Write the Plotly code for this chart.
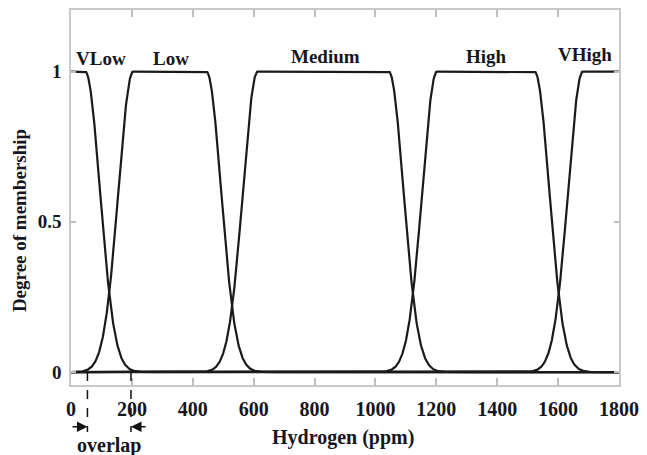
import numpy as np
import plotly.graph_objects as go

# ---- data ----
set_names = ["VLow", "Low", "Medium", "High", "VHigh"]
plateau_start = [-100, 204, 613, 1202, 1681]   # ppm where membership reaches 1
plateau_end = [47, 445, 1044, 1523, 1900]      # ppm where membership leaves 1
sigma = [48, 48, 48, 48, 48]                   # gaussian shoulder width (ppm)
x_ticks = [0, 200, 400, 600, 800, 1000, 1200, 1400, 1600, 1800]
y_ticks = [0, 0.5, 1]
y_tick_text = ["0", "0.5", "1"]
overlap_bounds = [54, 197]                     # ppm marked by dashed lines

TXT = "#161622"
FONT = "Liberation Serif"

x = np.arange(0, 1801, 1.0)


def gauss2mf(xv, s, c1, c2):
    y = np.ones_like(xv)
    left = xv < c1
    right = xv > c2
    y[left] = np.exp(-((xv[left] - c1) ** 2) / (2 * s ** 2))
    y[right] = np.exp(-((xv[right] - c2) ** 2) / (2 * s ** 2))
    return y


fig = go.Figure()
for name, a, b, s in zip(set_names, plateau_start, plateau_end, sigma):
    fig.add_trace(go.Scatter(x=x, y=gauss2mf(x, s, a, b), mode="lines", name=name,
                             line=dict(color="#1a1a1a", width=2.2), showlegend=False))

# curve labels
label_pos = {"VLow": (98, 1.043), "Low": (327, 1.043), "Medium": (836, 1.05),
             "High": (1364, 1.05), "VHigh": (1687, 1.056)}
for name in set_names:
    lx, ly = label_pos[name]
    fig.add_annotation(x=lx, y=ly, xref="x", yref="y", text=name, showarrow=False,
                       xanchor="center", yanchor="middle",
                       font=dict(family=FONT, size=19, color=TXT, weight="bold"))

# overlap markers
for xb in overlap_bounds:
    fig.add_shape(type="line", xref="x", yref="paper", x0=xb, x1=xb, y0=0.0345, y1=-0.125,
                  line=dict(color="#111", width=1.5, dash="dash"))
fig.add_annotation(x=overlap_bounds[0], y=-0.111, xref="x", yref="paper", ax=0, ay=0,
                   axref="x", ayref="pixel", text="", showarrow=True, arrowhead=2,
                   arrowsize=1.4, arrowwidth=1.5, arrowcolor="#111")
fig.add_annotation(x=overlap_bounds[1], y=-0.111, xref="x", yref="paper", ax=250, ay=0,
                   axref="x", ayref="pixel", text="", showarrow=True, arrowhead=2,
                   arrowsize=1.4, arrowwidth=1.5, arrowcolor="#111")
fig.add_annotation(x=124, y=-0.1618, xref="x", yref="paper", text="overlap", showarrow=False,
                   xanchor="center", yanchor="middle",
                   font=dict(family=FONT, size=20, color=TXT, weight="bold"))

# axis titles
fig.add_annotation(x=0.497, y=-0.1406, xref="paper", yref="paper", text="Hydrogen (ppm)",
                   xanchor="center", yanchor="middle",
                   showarrow=False, font=dict(family=FONT, size=20, color=TXT, weight="bold"))
fig.add_annotation(x=-0.0926, y=0.4377, xref="paper", yref="paper", text="Degree of membership",
                   textangle=-90, showarrow=False, xanchor="center", yanchor="middle",
                   font=dict(family=FONT, size=19, color=TXT, weight="bold"))

fig.update_xaxes(range=[0, 1800], tickvals=x_ticks, ticks="inside", ticklen=7,
                 tickcolor="#bdbdbd", tickwidth=1.5, showline=True, linecolor="#c8c8c8",
                 linewidth=1.5, mirror="ticks", showgrid=False, zeroline=False,
                 ticklabelstandoff=5,
                 tickfont=dict(family=FONT, size=20, color=TXT, weight="bold"))
fig.update_yaxes(range=[-0.043, 1.205], tickvals=y_ticks, ticktext=y_tick_text,
                 ticks="inside", ticklen=5, tickcolor="#bdbdbd", tickwidth=1.5,
                 showline=True, linecolor="#c8c8c8", linewidth=1.5, mirror="ticks",
                 showgrid=False, zeroline=False, ticklabelstandoff=4,
                 tickfont=dict(family=FONT, size=19, color=TXT, weight="bold"))
fig.update_layout(width=647, height=455, margin=dict(l=71, r=25, t=8, b=70),
                  plot_bgcolor="white", paper_bgcolor="white")
fig.write_html("out.html")
